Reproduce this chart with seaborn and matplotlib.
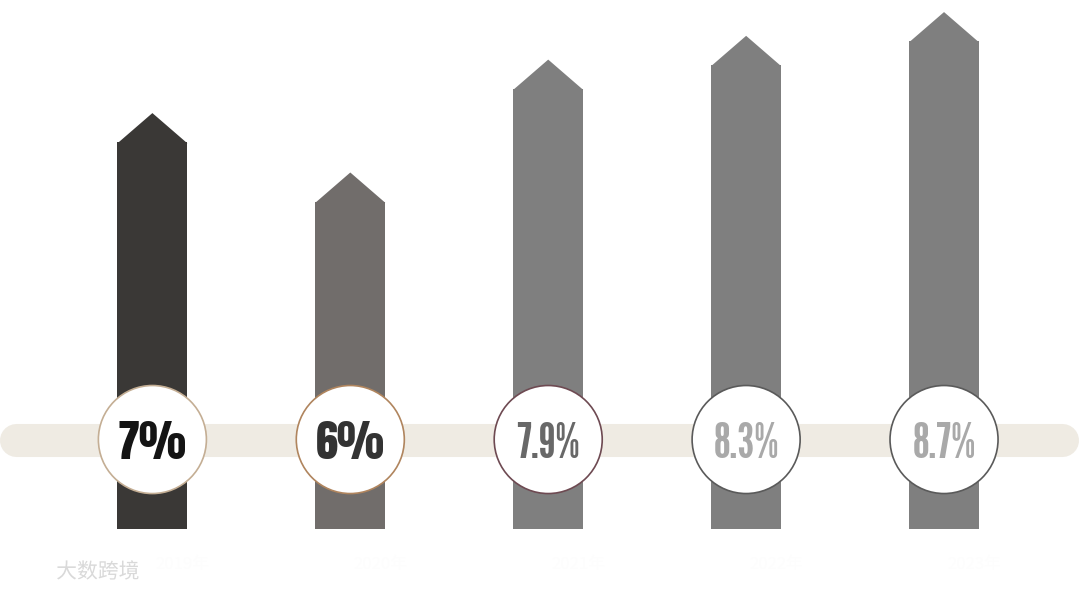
import matplotlib
matplotlib.use("Agg")
import matplotlib.pyplot as plt
import matplotlib.patheffects as pe
from matplotlib.patches import Polygon
import seaborn as sns
import pandas as pd

# data
years = ["2019年", "2020年", "2021年", "2022年", "2023年"]
growth = [7.0, 6.0, 7.9, 8.3, 8.7]
labels = ["7%", "6%", "7.9%", "8.3%", "8.7%"]

# styles
bar_colors = ["#3a3836", "#716d6b", "#7f7f7f", "#7f7f7f", "#7f7f7f"]
ring_colors = ["#c4ae94", "#b0855e", "#6e4a52", "#5a5a5a", "#5a5a5a"]
text_colors = ["#141414", "#333333", "#686868", "#a9a9a9", "#a9a9a9"]
label_fonts = ["Anton", "Anton", "League Gothic", "League Gothic", "League Gothic"]

sns.set_theme(style="white")

fig = plt.figure(figsize=(10.8, 5.92), dpi=100)
ax = fig.add_axes([0, 0, 1, 1])

tip = 0.49  # height of the arrow head in data units
df = pd.DataFrame({"year": years, "body": [g - tip for g in growth]})
sns.barplot(data=df, x="year", y="body", hue="year", palette=bar_colors,
            width=0.354, legend=False, ax=ax, zorder=2, saturation=1,
            edgecolor="none", linewidth=0)

# arrow heads on top of each bar
for patch, g, c in zip(ax.patches, growth, bar_colors):
    x0 = patch.get_x()
    w = patch.get_width()
    h = patch.get_height()
    ax.add_patch(Polygon([(x0, h - 0.02), (x0 + w, h - 0.02), (x0 + w / 2, g)],
                         closed=True, facecolor=c, edgecolor="none",
                         linewidth=0, zorder=2))

ax.set_xlim(-0.770, 4.687)
ax.set_ylim(-1.06, 8.903)

# beige band behind the rings
band_y = 1.506
ax.plot([-0.687, 4.594], [band_y, band_y], color="#efebe3", linewidth=23.8,
        solid_capstyle="round", zorder=1)

# white rings with the values
xs = list(range(len(growth)))
ax.scatter(xs, [band_y] * len(xs), s=6050, facecolor="white",
           edgecolors=ring_colors, linewidths=1.2, zorder=3)
for i, (lab, tc, fnt) in enumerate(zip(labels, text_colors, label_fonts)):
    size = 32 if fnt == "Anton" else 35
    ax.text(i, band_y, lab, ha="center", va="center_baseline", fontsize=size,
            family=fnt, color=tc, zorder=4)

# faint year labels under the bars
for i, y in enumerate(years):
    ax.text(i + 0.15, -0.6, y, ha="center", va="center", fontsize=12,
            color="#fdfdfd", family=["Noto Sans CJK SC", "DejaVu Sans"])

# watermark
fig.text(0.052, 0.034, "大数跨境", fontsize=15, color="#d9d9d9",
         family=["Noto Sans CJK SC", "DejaVu Sans"], va="center",
         path_effects=[pe.withStroke(linewidth=2, foreground="white")])

ax.axis("off")
fig.savefig("out.png", dpi=100)
